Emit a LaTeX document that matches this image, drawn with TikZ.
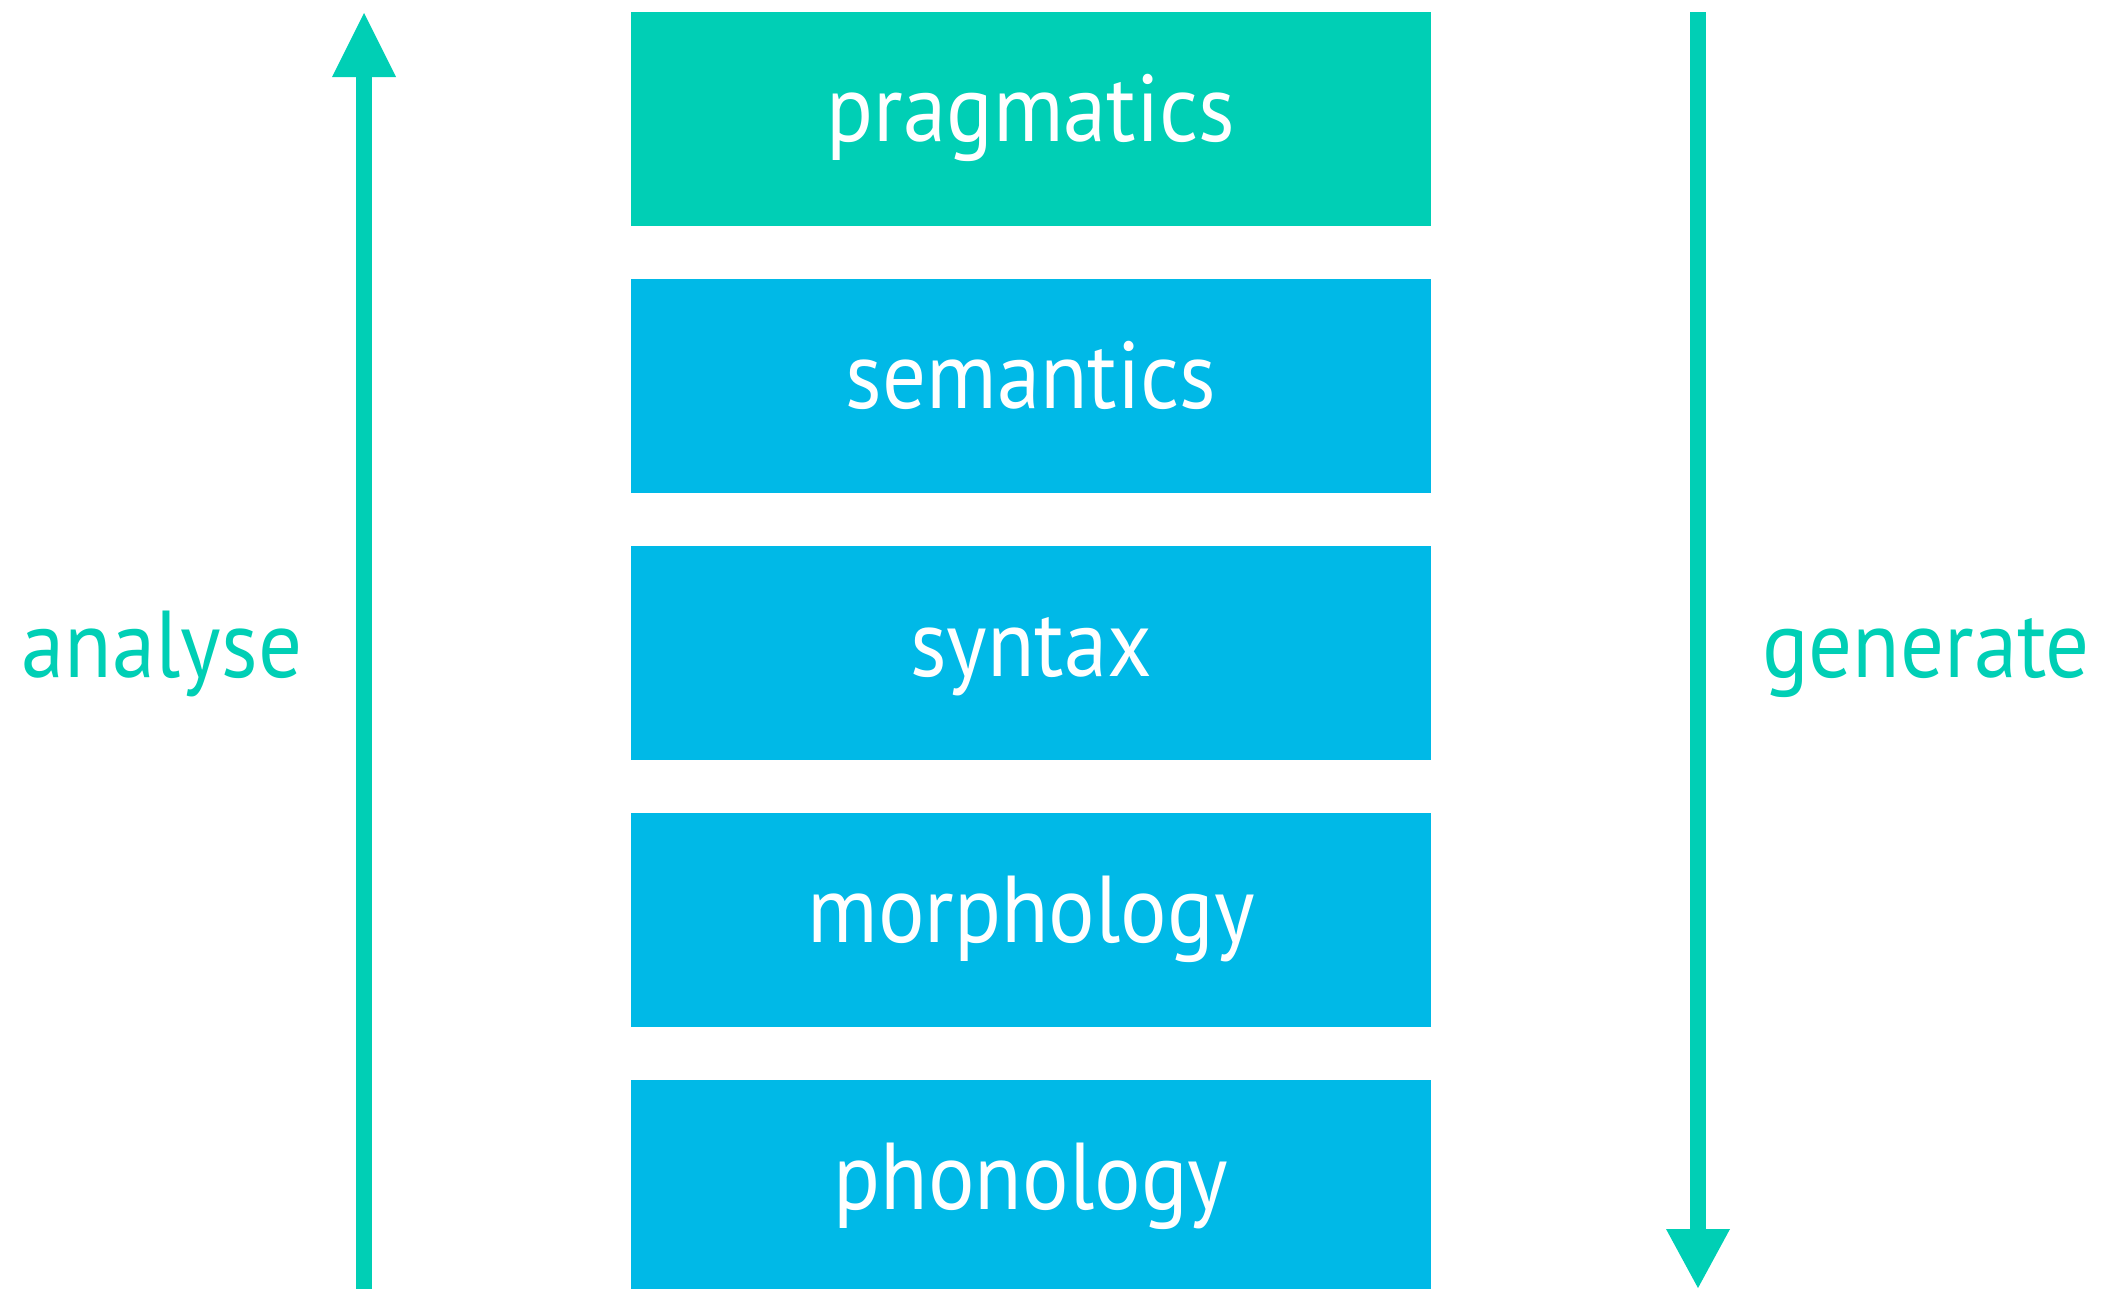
\documentclass[tikz,border=0pt]{standalone}
\usepackage{fontspec}
\setmainfont{PT Sans}[FakeStretch=0.915]
\usetikzlibrary{arrows.meta}
\definecolor{teal}{RGB}{0,207,181}
\definecolor{sky}{RGB}{0,185,231}
\begin{document}
\begin{tikzpicture}[x=1pt,y=-1pt,
  layer/.style={fill=#1,draw=none,minimum width=800pt,minimum height=214pt,inner sep=0pt,anchor=north west},
  lbl/.style={text=white,font=\fontsize{95}{95}\selectfont,anchor=base,inner sep=0pt},
  side/.style={text=teal,font=\fontsize{95}{95}\selectfont,anchor=base,inner sep=0pt},
  flow/.style={draw=teal,line width=16pt,-{Triangle[length=64pt,width=64pt,line width=0pt]}}]
\useasboundingbox (0,0) rectangle (2107,1288);
\node[layer=teal] (prag) at (631,12) {};
\node[layer=sky] (sem) at (631,279) {};
\node[layer=sky] (syn) at (631,546) {};
\node[layer=sky] (mor) at (631,813) {};
\node[layer=sky,minimum height=220pt] (pho) at (631,1080) {};
\node[lbl] (tprag) at (1031,141) {pragmatics};
\node[lbl] (tsem) at (1031,408) {semantics};
\node[lbl] (tsyn) at (1031,676) {syntax};
\node[lbl] (tmor) at (1031,942) {morphology};
\node[lbl] (tpho) at (1031,1209) {phonology};
\node[side] (analyse) at (162,677) {analyse};
\node[side] (generate) at (1926,677) {generate};
\coordinate (lbot) at (364,1300);
\coordinate (ltop) at (364,13);
\coordinate (rtop) at (1698,12);
\coordinate (rbot) at (1698,1288);
\draw[flow] (lbot) -- (ltop);
\draw[flow,-{Triangle[length=59pt,width=64pt,line width=0pt]}] (rtop) -- (rbot);
\end{tikzpicture}
\end{document}
